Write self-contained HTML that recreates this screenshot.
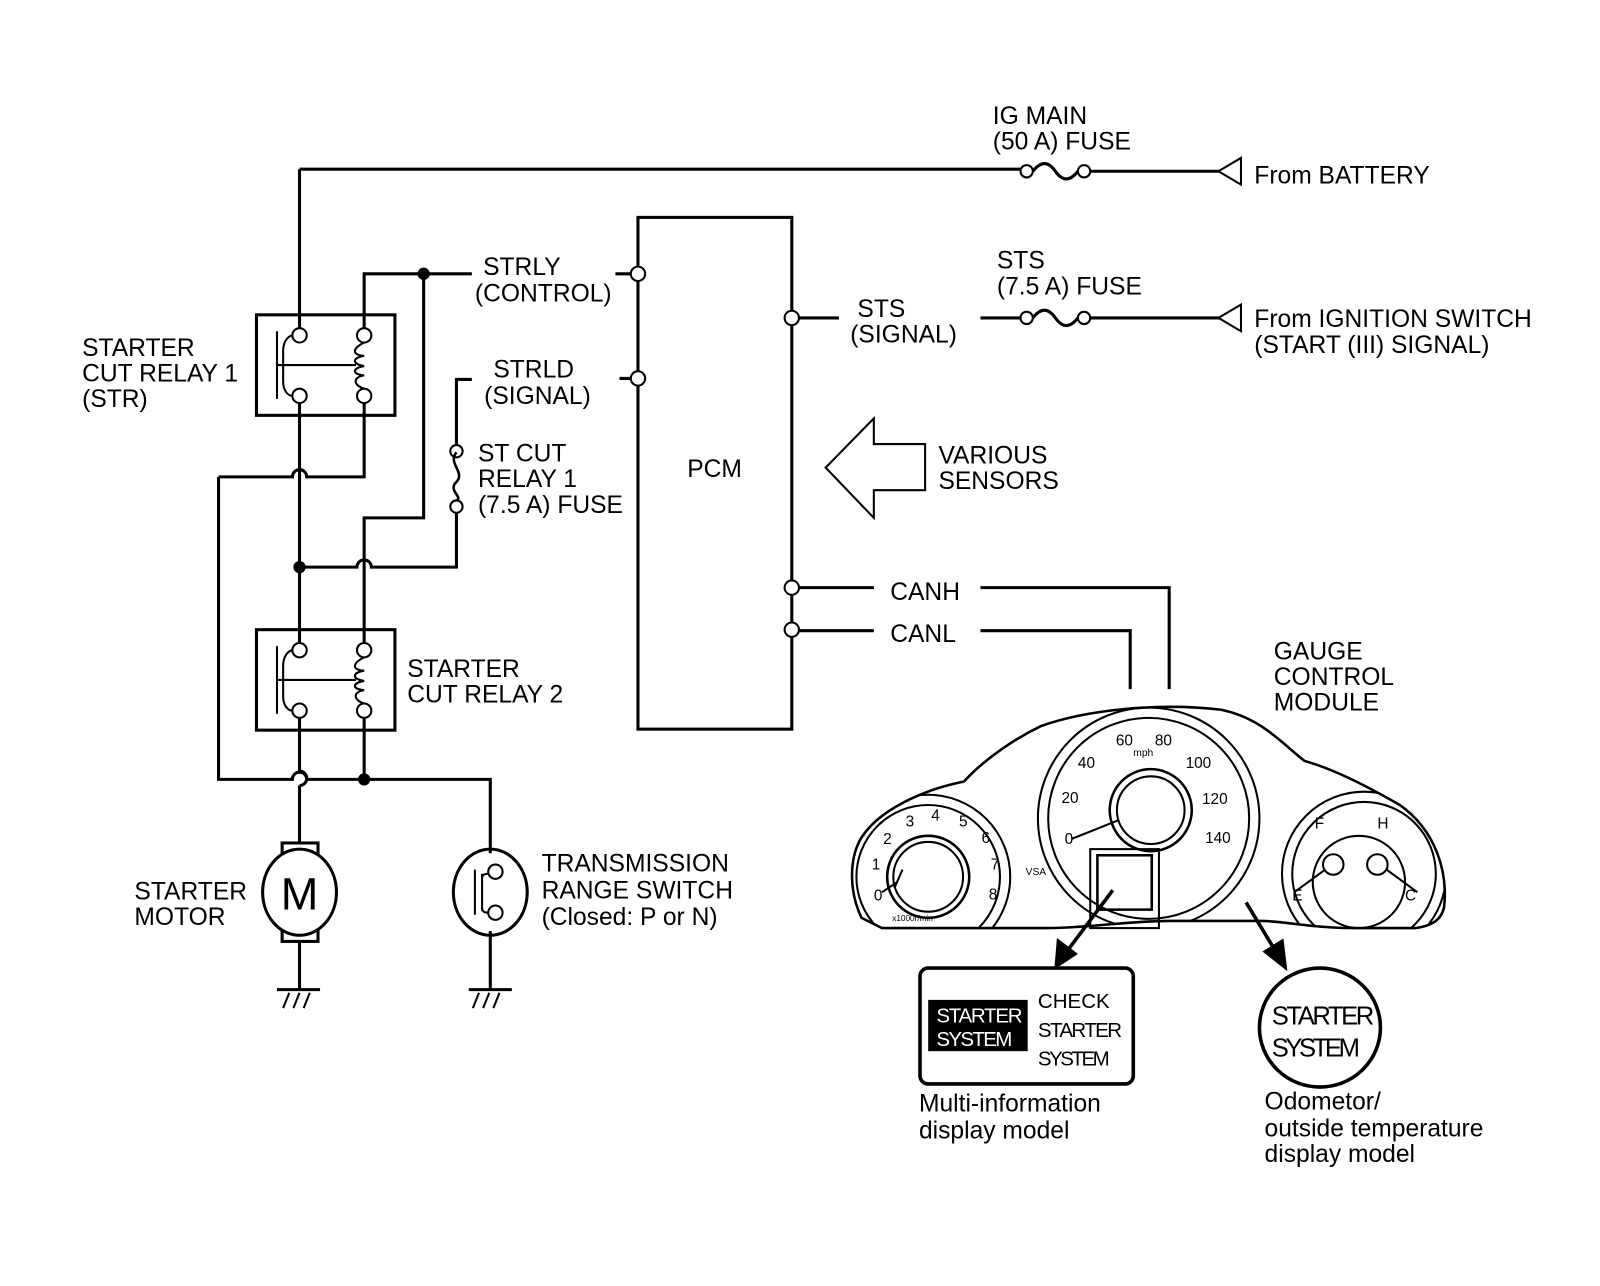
<!DOCTYPE html>
<html><head><meta charset="utf-8"><style>
html,body{margin:0;padding:0;background:#fff;}
svg{display:block}
text{font-family:"Liberation Sans",sans-serif;fill:#000}
</style></head><body>
<svg width="1600" height="1286" viewBox="0 0 1560 1254" xmlns="http://www.w3.org/2000/svg">
<defs>
<clipPath id="cl"><path d="M840 895 C828 870,828 840,838 820 C855 790,900 770,940 762 C960 740,990 720,1015 708 C1060 692,1130 685,1190 692 C1230 700,1250 725,1272 742 C1300 750,1330 765,1365 785 C1400 810,1412 850,1408 885 C1405 898,1395 903,1380 905 L1320 905 C1280 905,1250 898,1230 898 L1140 898 C1100 898,1060 905,1020 905 L860 905 Z"/></clipPath>
</defs>
<g fill="none" stroke="#000" stroke-width="3">
<path d="M292 165 H995 M1063 167 H1190"/>
<path d="M1210 154 L1188 167 L1210 180 Z" stroke-width="2"/>
<circle cx="1001" cy="167" r="6" stroke-width="2"/><circle cx="1057" cy="167" r="6" stroke-width="2"/>
<path d="M1007 167 C1015 157,1022 157,1029 167 C1036 177,1043 177,1051 167"/>
<path d="M956 310 H995 M1063 310 H1190 M772 310 H818"/>
<path d="M1210 297 L1188 310 L1210 323 Z" stroke-width="2"/>
<circle cx="1001" cy="310" r="6" stroke-width="2"/><circle cx="1057" cy="310" r="6" stroke-width="2"/>
<path d="M1007 310 C1015 300,1022 300,1029 310 C1036 320,1043 320,1051 310"/>
<path d="M292 165 V320 M292 393 V626 M292 700 V752 A7 7 0 0 1 292 766 M292 766 V822 M292 918 V965"/>
<path d="M213 465 H285 A7 7 0 0 1 299 465 H355 V393"/>
<path d="M213 465 V760 H285 A7 7 0 0 1 299 760 H478 V832"/>
<path d="M355 320 V267 H460"/>
<path d="M413 267 V505 H355 V626 M355 700 V760"/>
<path d="M292 553 H348 A7 7 0 0 1 362 553 H445 V500 M445 434 V370 H460"/>
<path d="M445 441 C436 452,454 460,445 470 C436 478,452 485,445 488" stroke-width="2.5"/>
<circle cx="445" cy="440" r="6" stroke-width="2"/><circle cx="445" cy="494" r="6" stroke-width="2"/>
<path d="M600 267 H616 M604 369 H616"/>
<rect x="250" y="307" width="135" height="98"/>
<g stroke-width="2">
<circle cx="292" cy="327" r="7"/><circle cx="292" cy="386" r="7"/><circle cx="355" cy="327" r="7"/><circle cx="355" cy="386" r="7"/>
<path d="M270 323 V389 M276 342 C276 334,280 328,285 327 M276 372 C276 380,280 386,285 386 M276 342 V372 M270 356 H347"/>
<path d="M355 334 C343 340,343 346,355 347 C343 349,343 355,355 357 C343 359,343 365,355 366 C343 368,345 376,355 379"/>
<circle cx="292" cy="634" r="7"/><circle cx="292" cy="693" r="7"/><circle cx="355" cy="634" r="7"/><circle cx="355" cy="693" r="7"/>
<path d="M270 630 V696 M276 649 C276 641,280 635,285 634 M276 679 C276 687,280 693,285 693 M276 649 V679 M270 663 H347"/>
<path d="M355 641 C343 647,343 653,355 654 C343 656,343 662,355 664 C343 666,343 672,355 673 C343 675,345 683,355 686"/>
</g>
<rect x="250" y="614" width="135" height="98"/>
<rect x="275" y="822" width="35" height="96"/>
<ellipse cx="292" cy="870" rx="36" ry="42" fill="#fff"/>
<path d="M270 965 H312 M478 908 V965 M457 965 H499"/>
<path d="M282 968 L276 983 M292 968 L286 983 M302 968 L296 983 M467 968 L461 983 M477 968 L471 983 M487 968 L481 983" stroke-width="2"/>
<ellipse cx="478" cy="870" rx="36" ry="42"/>
<g stroke-width="2"><circle cx="483" cy="850" r="7"/><circle cx="483" cy="890" r="7"/>
<path d="M463 848 V892 M470 852 V888 M476 852 C470 852,470 855,470 857 M476 890 C470 890,470 887,470 885"/></g>
<rect x="622" y="212" width="150" height="499"/>
<path d="M778 573 H852 M956 573 H1140 V672 M778 615 H852 M956 615 H1102 V672"/>
<g fill="#fff" stroke-width="2"><circle cx="622" cy="267" r="7"/><circle cx="622" cy="369" r="7"/><circle cx="772" cy="310" r="7"/><circle cx="772" cy="573" r="7"/><circle cx="772" cy="614" r="7"/></g>
<path d="M805 456 L852 408 V433 H902 V478 H852 V505 Z" stroke-width="2"/>
</g>
<g fill="#000"><circle cx="413" cy="267" r="6"/><circle cx="292" cy="553" r="6"/><circle cx="355" cy="760" r="6"/></g>
<text x="292" y="887" font-size="44" text-anchor="middle">M</text>
<g font-size="24">
<text x="968" y="121">IG MAIN</text><text x="968" y="146">(50 A) FUSE</text>
<text x="1223" y="179">From BATTERY</text>
<text x="972" y="262">STS</text><text x="972" y="287">(7.5 A) FUSE</text>
<text x="1223" y="319">From IGNITION SWITCH</text><text x="1223" y="344">(START (III) SIGNAL)</text>
<text x="836" y="309">STS</text><text x="829" y="334">(SIGNAL)</text>
<text x="471" y="268">STRLY</text><text x="463" y="294">(CONTROL)</text>
<text x="481" y="368">STRLD</text><text x="472" y="394">(SIGNAL)</text>
<text x="466" y="450">ST CUT</text><text x="466" y="475">RELAY 1</text><text x="466" y="500">(7.5 A) FUSE</text>
<text x="80" y="347">STARTER</text><text x="80" y="372">CUT RELAY 1</text><text x="80" y="397">(STR)</text>
<text x="397" y="660">STARTER</text><text x="397" y="685">CUT RELAY 2</text>
<text x="670" y="465">PCM</text>
<text x="915" y="452">VARIOUS</text><text x="915" y="477">SENSORS</text>
<text x="868" y="585">CANH</text><text x="868" y="626">CANL</text>
<text x="1242" y="643">GAUGE</text><text x="1242" y="668">CONTROL</text><text x="1242" y="693">MODULE</text>
<text x="131" y="877">STARTER</text><text x="131" y="902">MOTOR</text>
<text x="528" y="850">TRANSMISSION</text><text x="528" y="876">RANGE SWITCH</text><text x="528" y="902">(Closed: P or N)</text>
<text x="896" y="1084">Multi-information</text><text x="896" y="1110">display model</text>
<text x="1233" y="1082">Odometor/</text><text x="1233" y="1108">outside temperature</text><text x="1233" y="1133">display model</text>
</g>
<g fill="none" stroke="#000" stroke-width="2">
<path d="M840 895 C828 870,828 840,838 820 C855 790,900 770,940 762 C960 740,990 720,1015 708 C1060 692,1130 685,1190 692 C1230 700,1250 725,1272 742 C1300 750,1330 765,1365 785 C1400 810,1412 850,1408 885 C1405 898,1395 903,1380 905 L1320 905 C1280 905,1250 898,1230 898 L1140 898 C1100 898,1060 905,1020 905 L860 905 Z" stroke-width="2.5"/>
<g clip-path="url(#cl)">
<circle cx="905" cy="855" r="80"/><circle cx="905" cy="855" r="70"/>
<circle cx="1120" cy="798" r="108"/><circle cx="1120" cy="798" r="98"/>
<circle cx="1330" cy="852" r="80"/><circle cx="1330" cy="852" r="70"/>
<circle cx="1325" cy="860" r="45"/>
</g>
<circle cx="905" cy="855" r="40" stroke-width="2.5"/><circle cx="905" cy="855" r="34"/>
<circle cx="1122" cy="790" r="40" stroke-width="2.5"/><circle cx="1122" cy="790" r="33"/>
<circle cx="1300" cy="843" r="10"/><circle cx="1343" cy="843" r="10"/>
<path d="M1045 818 L1090 800 M860 870 L875 860 M880 848 L872 866 M1262 870 L1292 848 M1352 848 L1382 870"/>
<rect x="1063" y="828" width="67" height="77"/>
<rect x="1070" y="834" width="53" height="53" stroke-width="2.5"/>
</g>
<g font-size="15" fill="#000">
<text x="852" y="878">0</text><text x="850" y="848">1</text><text x="861" y="823">2</text><text x="883" y="806">3</text><text x="908" y="800">4</text><text x="935" y="806">5</text><text x="957" y="822">6</text><text x="966" y="848">7</text><text x="964" y="877">8</text>
<text x="1038" y="823">0</text><text x="1035" y="783">20</text><text x="1051" y="749">40</text><text x="1088" y="727">60</text><text x="1126" y="727">80</text><text x="1156" y="749">100</text><text x="1172" y="784">120</text><text x="1175" y="822">140</text>
<text x="1282" y="808">F</text><text x="1343" y="808">H</text><text x="1260" y="878">E</text><text x="1370" y="878">C</text>
<text x="1105" y="737" font-size="10">mph</text>
<text x="870" y="898" font-size="8">x1000r/min</text>
<text x="1000" y="853" font-size="10">VSA</text>
</g>
<g stroke="#000" stroke-width="3.5" fill="#000">
<path d="M1085 868 L1040 928"/><path d="M1030 942 L1032 918 L1048 930 Z"/>
<path d="M1215 880 L1244 928"/><path d="M1253 943 L1234 928 L1250 918 Z"/>
</g>
<rect x="897" y="944" width="208" height="113" rx="8" fill="none" stroke="#000" stroke-width="3.5"/>
<rect x="905" y="975" width="97" height="50" fill="#000"/>
<g font-family="Liberation Sans Narrow, Liberation Sans, sans-serif" font-size="20">
<text x="913" y="997" style="fill:#fff" textLength="84">STARTER</text>
<text x="913" y="1020" style="fill:#fff" textLength="74">SYSTEM</text>
<text x="1012" y="983" textLength="70">CHECK</text>
<text x="1012" y="1011" textLength="82">STARTER</text>
<text x="1012" y="1039" textLength="70">SYSTEM</text>
</g>
<ellipse cx="1287" cy="1002" rx="59" ry="58" fill="none" stroke="#000" stroke-width="3.5"/>
<g font-size="25"><text x="1240" y="999" textLength="100">STARTER</text><text x="1240" y="1030" textLength="86">SYSTEM</text></g>
</svg>
</body></html>
